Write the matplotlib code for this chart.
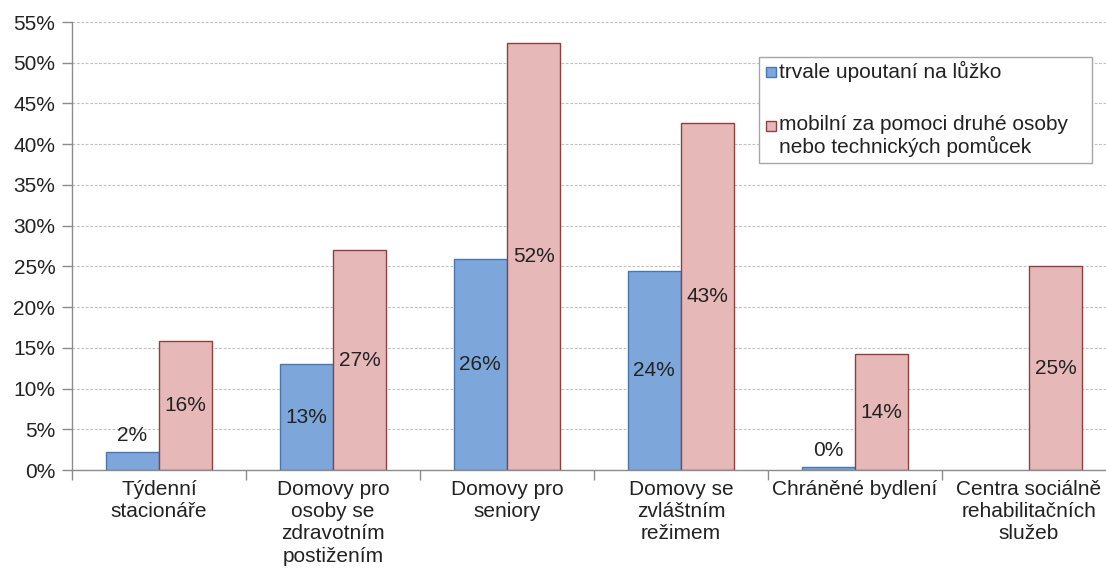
import numpy as np
import matplotlib.pyplot as plt
from matplotlib.patches import Rectangle

plt.rcParams['font.family'] = ['Liberation Sans', 'DejaVu Sans']

categories = ["Týdenní\nstacionáře", "Domovy pro\nosoby se\nzdravotním\npostižením",
              "Domovy pro\nseniory", "Domovy se\nzvláštním\nrežimem",
              "Chráněné bydlení", "Centra sociálně\nrehabilitačních\nslužeb"]
bedridden = [2.2, 13.0, 25.9, 24.4, 0.4, np.nan]
assisted = [15.8, 27.0, 52.4, 42.6, 14.2, 25.0]
series_names = ["trvale upoutaní na lůžko",
                "mobilní za pomoci druhé osoby\nnebo technických pomůcek"]
yticks = np.arange(0, 56, 5)

W, H = 1106, 577
fig = plt.figure(figsize=(W / 100, H / 100), dpi=100)
ax = fig.add_axes([72 / W, 1 - 470 / H, 1044 / W, 448 / H])

fs = 15
txt_col = '#222222'
blue, blue_edge = '#7DA7DB', '#4A76B0'
pink, pink_edge = '#E6B8B8', '#8E4040'

x = np.arange(len(categories))
w = 0.307
b1 = ax.bar(x - w / 2, bedridden, w, color=blue, edgecolor=blue_edge, linewidth=1.0)
b2 = ax.bar(x + w / 2, assisted, w, color=pink, edgecolor=pink_edge, linewidth=1.0)

# data labels: centred in the bar, small values above it
for bars, vals in ((b1, bedridden), (b2, assisted)):
    for rect, v in zip(bars, vals):
        if np.isnan(v):
            continue
        cx = rect.get_x() + rect.get_width() / 2
        lab = f"{round(v)}%"
        if v < 5:
            ax.annotate(lab, (cx, v), xytext=(0, 5), textcoords='offset points',
                        ha='center', va='bottom', fontsize=fs, color=txt_col)
        else:
            ax.text(cx, v / 2, lab, ha='center', va='center', fontsize=fs, color=txt_col)

ax.set_xlim(-0.5, len(categories) - 0.5)
ax.set_ylim(0, 55)
ax.set_yticks(yticks)
ax.set_yticklabels([f"{t}%" for t in yticks])
ax.set_xticks(x)
ax.set_xticklabels(categories, linespacing=1.22)
ax.set_xticks(np.arange(-0.5, len(categories) + 0.5, 1), minor=True)

ax.tick_params(axis='x', which='major', length=0, pad=7, labelsize=fs, labelcolor=txt_col)
ax.tick_params(axis='x', which='minor', length=7, color='#8C8C8C', width=1)
ax.tick_params(axis='y', length=7, color='#8C8C8C', width=1, pad=5,
               labelsize=fs, labelcolor=txt_col)

ax.yaxis.grid(True, color='#C0C0C0', linestyle=(0, (2.5, 1.5)), linewidth=0.8)
ax.set_axisbelow(True)
for s in ('top', 'right'):
    ax.spines[s].set_visible(False)
for s in ('left', 'bottom'):
    ax.spines[s].set_color('#8C8C8C')
    ax.spines[s].set_linewidth(1.0)

# legend box drawn by hand so the square sits on the first text line
def fx(px):
    return px / W

def fy(py):
    return 1 - py / H

fig.patches.append(Rectangle((fx(759), fy(163)), fx(1092) - fx(759), fy(57) - fy(163),
                             transform=fig.transFigure, facecolor='white',
                             edgecolor='#A6A6A6', linewidth=1.0, zorder=5))
entries = [(72, blue, blue_edge), (126, pink, pink_edge)]
for (cy, fc, ec), name in zip(entries, series_names):
    fig.patches.append(Rectangle((fx(766), fy(cy + 5)), fx(10), 10 / H,
                                 transform=fig.transFigure, facecolor=fc,
                                 edgecolor=ec, linewidth=1.0, zorder=6))
    fig.text(fx(779), fy(cy - 11), name, ha='left', va='top', fontsize=fs,
             color=txt_col, linespacing=1.1, zorder=7)

fig.savefig('out.png', dpi=100, facecolor='white')
